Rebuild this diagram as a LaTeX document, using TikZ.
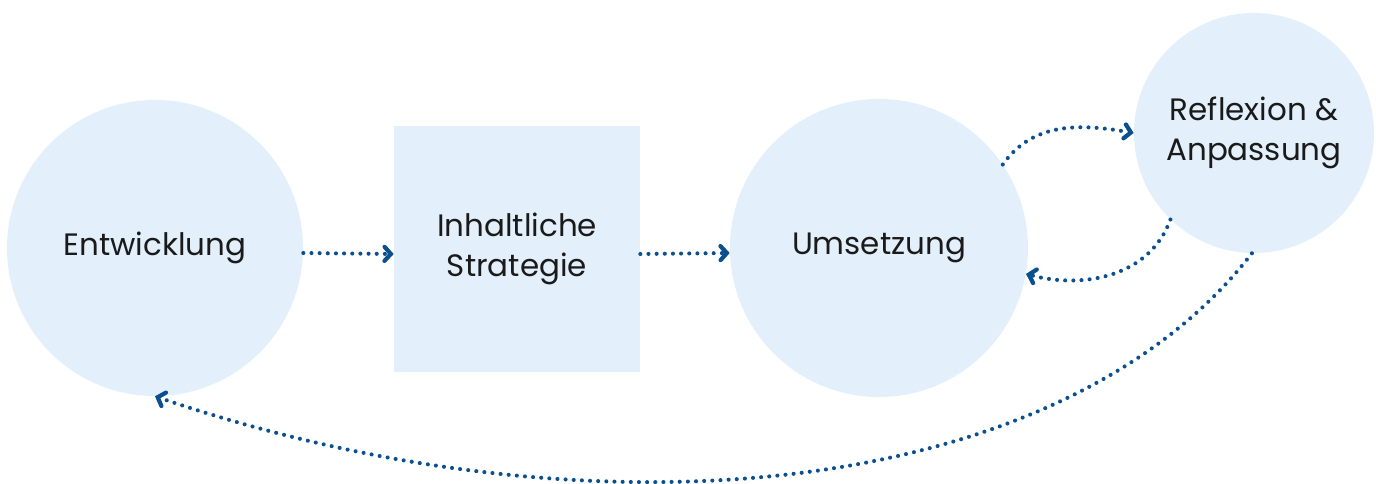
\documentclass[tikz,border=0pt]{standalone}
\usepackage{fontspec}
\setmainfont{Poppins}
\usetikzlibrary{arrows.meta}

\definecolor{stepfill}{HTML}{E3F0FC}
\definecolor{flowblue}{HTML}{0B4F8F}
\definecolor{labeltext}{HTML}{1A1A1A}

\begin{document}
\begin{tikzpicture}[x=0.025cm, y=-0.025cm,
  phase/.style={circle, fill=stepfill, inner sep=0pt, text=labeltext, align=center, font=\fontsize{22}{28.5}\selectfont},
  flow/.style={flowblue, line width=2.9pt, line cap=round, dash pattern=on 0pt off 5.8pt,
    -{Straight Barb[length=4.5pt, width=10pt, line width=3pt, line cap=round]}}]
\useasboundingbox (0,0) rectangle (1376,484);
\node[name=entw, phase, minimum size=7.4cm] at (155,248) {Entwicklung};
\node[name=strat, rectangle, fill=stepfill, minimum size=6.15cm, inner sep=0pt, text=labeltext, align=center, font=\fontsize{22}{28.5}\selectfont] at (517,249) {Inhaltliche\\Strategie};
\node[name=umsetz, phase, minimum size=7.45cm] at (879,248) {Umsetzung};
\node[name=refl, phase, minimum size=6cm] at (1254,133) {Reflexion \&\\Anpassung};
\foreach \from/\to in {entw/strat,strat/umsetz}
  \draw [flow] ([yshift=-0.125cm]\from.east) -- ([yshift=-0.125cm]\to.west);
\draw [flow] (umsetz.34) to[out=55, in=170] (refl.180);
\draw [flow] (refl.226) to[out=-110, in=-15] (umsetz.-10);
\draw [flow] (refl.-91) .. controls (1065,496) and (600,548) .. (entw.-90);
\end{tikzpicture}
\end{document}
